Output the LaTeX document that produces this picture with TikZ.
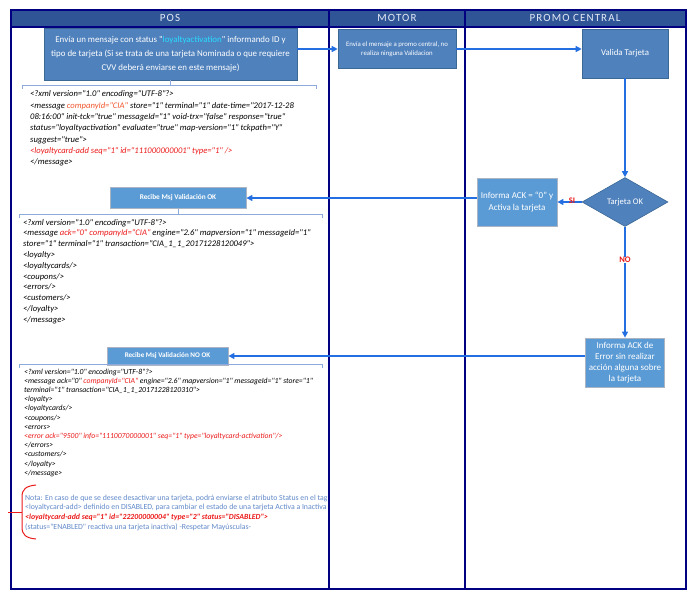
\documentclass[tikz,border=0pt]{standalone}
\usepackage{fontspec}
\setmainfont{Carlito}[Ligatures=TeXOff]
\newfontfamily\hdrfont{Carlito}[LetterSpace=10]
\usetikzlibrary{arrows.meta,shapes.geometric,calc}
\definecolor{navyL}{RGB}{0,0,128}
\definecolor{hdrC}{RGB}{47,85,151}
\definecolor{boxA}{RGB}{79,129,189}
\definecolor{boxAd}{RGB}{60,104,150}
\definecolor{boxB}{RGB}{91,155,213}
\definecolor{boxBd}{RGB}{170,180,195}
\definecolor{arrC}{RGB}{35,110,225}
\definecolor{brkC}{RGB}{142,169,219}
\definecolor{xred}{RGB}{235,25,25}
\definecolor{xorg}{RGB}{240,85,45}
\definecolor{noteC}{RGB}{95,135,200}
\definecolor{cyanT}{RGB}{40,220,255}
\definecolor{hdrT}{RGB}{228,234,245}
\begin{document}
\begin{tikzpicture}[x=1pt,y=-1pt,
  procA/.style={draw=boxAd, fill=boxA, text=white, align=center, inner sep=0pt, line width=0.6pt},
  procB/.style={draw=boxBd, fill=boxB, text=white, align=center, inner sep=0pt, line width=0.8pt},
  conn/.style={draw=arrC, line width=1.3pt, -{Triangle[length=6pt,width=6pt]}},
  brk/.style={draw=brkC, line width=1pt},
  hdrtxt/.style={text=hdrT, font=\hdrfont\fontsize{11}{13}\selectfont, inner sep=0pt},
  lbl/.style={text=xred, font=\bfseries\fontsize{8.5}{10}\selectfont, inner sep=0.5pt},
  xmlA/.style={anchor=north west, inner sep=0pt, align=left, font=\itshape\fontsize{8.6}{11.35}\selectfont},
  xmlB/.style={anchor=north west, inner sep=0pt, align=left, font=\itshape\fontsize{8.6}{10.8}\selectfont},
  xmlC/.style={anchor=north west, inner sep=0pt, align=left, font=\itshape\fontsize{7.7}{9.2}\selectfont},
  noteT/.style={anchor=north west, inner sep=0pt, align=left, text=noteC, font=\fontsize{7.8}{9.7}\selectfont}
]
\useasboundingbox (0,0) rectangle (693,595);

% header band
\fill[hdrC] (10.5,9.5) rectangle (685.5,26.5);
% frame
\draw[navyL, line width=2pt] (10.5,9.5) rectangle (685.5,589);
\draw[navyL, line width=2pt] (10.5,26.5) -- (685.5,26.5);
\draw[navyL, line width=2pt] (329,9.5) -- (329,589);
\draw[navyL, line width=2pt] (465,9.5) -- (465,589);

\node[hdrtxt] (hPOS) at (170,18) {POS};
\node[hdrtxt] (hMOT) at (397,18) {MOTOR};
\node[hdrtxt] (hPRO) at (575,18) {PROMO CENTRAL};

% process nodes
\node[procA, minimum width=253pt, minimum height=52pt, font=\fontsize{8.9}{14}\selectfont] (envia) at (170.5,54)
  {Envía un mensaje con status "{\color{cyanT}loyaltyactivation}" informando ID y\\
   tipo de tarjeta (Si se trata de una tarjeta Nominada o que requiere\\
   CVV deberá enviarse en este mensaje)};
\node[procA, minimum width=118pt, minimum height=39pt, font=\fontsize{6.8}{9.5}\selectfont] (motor) at (397,49)
  {Envía el mensaje a promo central, no\\ realiza ninguna Validacion};
\node[procA, minimum width=86pt, minimum height=49pt, font=\fontsize{8.8}{11}\selectfont] (valida) at (625,53.5)
  {Valida Tarjeta};
\node[diamond, procA, minimum width=86pt, minimum height=49pt, font=\fontsize{8.6}{11}\selectfont] (tok) at (625,202)
  {Tarjeta OK};
\node[procB, minimum width=80pt, minimum height=48pt, font=\fontsize{9}{12}\selectfont] (ack) at (517,202)
  {Informa ACK = “0” y\\ Activa la tarjeta};
\node[procB, minimum width=79pt, minimum height=49pt, font=\fontsize{9}{11}\selectfont] (err) at (625,362.5)
  {Informa ACK de\\ Error sin realizar\\ acción alguna sobre\\ la tarjeta};
\node[procB, minimum width=136pt, minimum height=21pt, font=\bfseries\fontsize{7.3}{9}\selectfont] (rok) at (178,198)
  {Recibe Msj Validación OK};
\node[procB, minimum width=121pt, minimum height=18pt, font=\bfseries\fontsize{7.1}{9}\selectfont] (rnok) at (167.5,356)
  {Recibe Msj Validación NO OK};

% connectors
\draw[conn] (envia.east |- motor.west) -- (motor.west);
\draw[conn] (motor.east) -- (motor.east -| valida.west);
\draw[conn] (valida.south) -- (tok.north);
\draw[conn] (tok.west) -- (ack.east) node[lbl, pos=0.4, above=-3pt] {SI};
\draw[conn] (ack.west |- rok.east) -- (rok.east);
\draw[conn] (tok.south) -- (err.north) node[lbl, pos=0.3, fill=white, inner sep=0.3pt] {NO};
\draw[conn] (err.west |- rnok.east) -- (rnok.east);

% brackets
\coordinate (b1s) at (envia.south |- 0,85);
\draw[brk] (22,89) -- (22,85) -- (316,85) -- (316,89);
\draw[brk] (envia.south) -- (b1s);
\coordinate (b2s) at (rok.south |- 0,214);
\draw[brk] (19,218) -- (19,214) -- (322,214) -- (322,218);
\draw[brk] (rok.south) -- (b2s);
\draw[brk] (19,368) -- (19,364) -- (322,364) -- (322,368);

% XML 1
\node[xmlA] (x1) at (30,90.5) {%
<?xml version="1.0" encoding="UTF-8"?>\\
<message {\color{xorg}companyId="CIA"} store="1" terminal="1" date-time="2017-12-28\\
08:16:00" init-tck="true" messageId="1" void-trx="false" response="true"\\
status="loyaltyactivation" evaluate="true" map-version="1" tckpath="Y"\\
suggest="true">\\
{\color{xred}<loyaltycard-add seq="1" id="111000000001" type="1" />}\\
</message>};

% XML 2
\node[xmlB] (x2) at (23,219) {%
<?xml version="1.0" encoding="UTF-8"?>\\
<message {\color{xred}ack="0" companyId="CIA"} engine="2.6" mapversion="1" messageId="1"\\
store="1" terminal="1" transaction="CIA\_1\_1\_20171228120049">\\
<loyalty>\\
<loyaltycards/>\\
<coupons/>\\
<errors/>\\
<customers/>\\
</loyalty>\\
</message>};

% XML 3
\node[xmlC] (x3) at (24,368.5) {%
<?xml version="1.0" encoding="UTF-8"?>\\
<message ack="0" {\color{xred}companyId="CIA"} engine="2.6" mapversion="1" messageId="1" store="1"\\
terminal="1" transaction="CIA\_1\_1\_20171228120310">\\
<loyalty>\\
<loyaltycards/>\\
<coupons/>\\
<errors>\\
{\color{xred}<error ack="9500" info="1110070000001" seq="1" type="loyaltycard-activation"/>}\\
</errors>\\
<customers/>\\
</loyalty>\\
</message>};

% note
\draw[xred, line width=1pt] (36,485) .. controls (26,486) and (22,489) .. (22,497) -- (22,527) .. controls (22,535) and (26,538) .. (36,539);
\draw[xred, line width=1pt] (8,512) -- (22,512);
\begin{scope}
\clip (12,480) rectangle (328,545);
\node[noteT] (nota) at (25,494.5) {%
Nota: En caso de que se desee desactivar una tarjeta, podrá enviarse el atributo Status en el tag\\
<loyaltycard-add> definido en DISABLED, para cambiar el estado de una tarjeta Activa a Inactiva\\
{\color{xred}\bfseries\itshape <loyaltycard-add seq="1" id="22200000004" type="2" status="DISABLED">}\\
(status="ENABLED" reactiva una tarjeta inactiva) -Respetar Mayúsculas-};
\end{scope}
\end{tikzpicture}
\end{document}
